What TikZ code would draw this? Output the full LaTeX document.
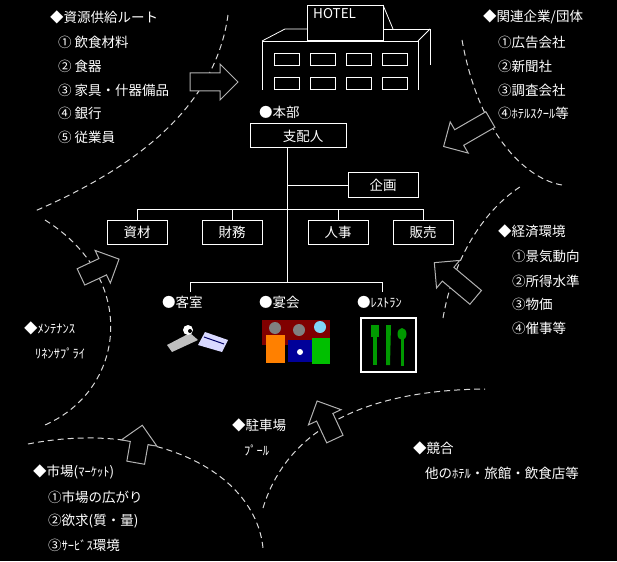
\documentclass[tikz,border=0pt]{standalone}
\usepackage{fontspec}
\setmainfont{Noto Sans CJK JP}
\newcommand\hk[1]{{\fontsize{12.5}{14}\selectfont #1}}
\newcommand\barr[3]{%
  \begin{scope}[shift={#1},rotate=#2]
  \draw[white!70!black,fill=black,line width=1pt]
   (-#3/2,-9pt) -- (#3/2-18pt,-9pt) -- (#3/2-18pt,-18pt) -- (#3/2,0pt) -- (#3/2-18pt,18pt) -- (#3/2-18pt,9pt) -- (-#3/2,9pt) -- cycle;
  \end{scope}}
\begin{document}
\begin{tikzpicture}[x=1pt,y=-1pt,
  txt/.style={anchor=west,text=white,inner sep=0pt,font=\fontsize{13.5}{15}\selectfont},
  ctxt/.style={text=white,inner sep=0pt,font=\fontsize{13.5}{15}\selectfont},
  bx/.style={draw=white,line width=1pt},
  ln/.style={draw=white,line width=0.8pt},
  curve/.style={draw=white!85!black,dashed,dash pattern=on 6pt off 4pt,line width=1pt}]
\fill[black] (0,0) rectangle (617,561);
\useasboundingbox (0,0) rectangle (617,561);
% curves
\draw[curve] (228,15) .. controls (215,110) and (130,170) .. (35,211);
\draw[curve] (45,220) .. controls (140,280) and (125,390) .. (45,425);
\draw[curve] (28,444) .. controls (150,420) and (255,470) .. (263,548);
\draw[curve] (263,508) .. controls (290,420) and (380,390) .. (485,389);
\draw[curve] (443,318) .. controls (455,250) and (490,205) .. (523,185);
\draw[curve] (462,40) .. controls (480,140) and (530,180) .. (562,185);
% block arrows
\barr{(214,82)}{0}{48pt}
\barr{(467,133)}{210}{54pt}
\barr{(455,280)}{140}{54pt}
\barr{(139,444)}{80}{38pt}
\barr{(326,420)}{115}{42pt}
\barr{(100,268)}{25}{42pt}
% hotel
\draw[ln] (262,90) -- (262,41) -- (418,41) -- (418,90);
\draw[ln] (262,41) -- (285,29) -- (307,29);
\draw[ln] (383,29) -- (430,29) -- (430,65);
\draw[ln] (418,41) -- (430,29);
\draw[ln] (383,5) -- (393,29);
\node[bx,minimum width=76pt,minimum height=35pt,anchor=north west,inner sep=0pt] (roof) at (307,5) {};
\node[anchor=north west,text=white,inner sep=0pt,font=\fontsize{13.5}{15}\selectfont] (hotel) at (313,8) {HOTEL};
\foreach \x in {274,310,346,382}{
  \draw[ln] (\x,53) rectangle +(25,12);
  \draw[ln] (\x,77) rectangle +(25,12);
}
% org chart
\node[txt] (honbu) at (259,112) {●本部};
\node[bx,minimum width=96pt,minimum height=24pt,ctxt] (shihai) at (298,136) {\hspace*{10pt}支配人};
\node[bx,minimum width=70pt,minimum height=24pt,ctxt] (kikaku) at (383,185) {企画};
\coordinate (j1) at (287,148);
\coordinate (j2) at (287,185);
\coordinate (j4) at (287,282);
\draw[ln] (j1) -- (j4);
\draw[ln] (j2) -- (kikaku.west);
\node[bx,minimum width=60pt,minimum height=24pt,ctxt] (shizai) at (137,232) {資材};
\node[bx,minimum width=60pt,minimum height=24pt,ctxt] (zaimu) at (232,232) {財務};
\node[bx,minimum width=60pt,minimum height=24pt,ctxt] (jinji) at (338,232) {人事};
\node[bx,minimum width=60pt,minimum height=24pt,ctxt] (hanbai) at (423,232) {販売};
\draw[ln] (shizai.north) -- ++(0,-10) -| (hanbai.north);
\draw[ln] (zaimu.north) -- ++(0,-10);
\draw[ln] (jinji.north) -- ++(0,-10);
\coordinate (k1) at (190,292);
\coordinate (k3) at (382,292);
\draw[ln] (k1) -- (190,282) -- (382,282) -- (k3);
\node[txt] (kyaku) at (162,302) {●客室};
\node[txt] (enkai) at (259,302) {●宴会};
\node[txt] (rest) at (357,302) {●\hk{ﾚｽﾄﾗﾝ}};
% key icon
\fill[white!75!black] (167,345) -- (190,333) -- (198,340) -- (172,352) -- cycle;
\fill[white] (188,330) circle (5);
\fill[white!85!blue] (205,332) -- (228,340) -- (222,352) -- (198,345) -- cycle;
\draw[black!60!blue,line width=1pt] (204,337) -- (224,344);
\fill[black] (190,331) circle (2);
% banquet
\fill[red!50!black] (262,320) rectangle (330,345);
\fill[orange] (266,335) rectangle (285,363);
\fill[gray] (275,328) circle (6);
\fill[blue!60!black] (288,340) rectangle (312,362);
\fill[gray] (299,330) circle (6);
\fill[green!75!black] (312,338) rectangle (330,364);
\fill[cyan!50!white] (320,327) circle (6);
\fill[white] (300,352) circle (3);
% restaurant
\draw[white,line width=2pt] (361,318) rectangle (416,372);
\fill[green!60!black] (373,335) rectangle (377,365);
\fill[green!60!black] (371,325) rectangle (379,337);
\fill[green!60!black] (386,325) -- (391,325) -- (390,365) -- (386,365) -- cycle;
\fill[green!60!black] (402,334) ellipse (4.5 and 6);
\fill[green!60!black] (400.5,338) rectangle (403.5,366);
% texts top-left
\node[txt] (s0) at (50,17) {◆資源供給ルート};
\node[txt] (s1) at (58,42) {① 飲食材料};
\node[txt] (s2) at (58,66) {② 食器};
\node[txt] (s3) at (58,90) {③ 家具・什器備品};
\node[txt] (s4) at (58,113) {④ 銀行};
\node[txt] (s5) at (58,137) {⑤ 従業員};
% top-right
\node[txt] (r0) at (483,17) {◆関連企業/団体};
\node[txt] (r1) at (498,42) {①広告会社};
\node[txt] (r2) at (498,66) {②新聞社};
\node[txt] (r3) at (498,90) {③調査会社};
\node[txt] (r4) at (498,113) {④\hk{ﾎﾃﾙｽｸｰﾙ}等};
% right middle
\node[txt] (e0) at (498,231) {◆経済環境};
\node[txt] (e1) at (512,256) {①景気動向};
\node[txt] (e2) at (512,281) {②所得水準};
\node[txt] (e3) at (512,304) {③物価};
\node[txt] (e4) at (512,328) {④催事等};
% left
\node[txt] (m0) at (24,328) {◆\hk{ﾒﾝﾃﾅﾝｽ}};
\node[txt] (m1) at (35,353) {\hk{ﾘﾈﾝｻﾌﾟﾗｲ}};
% bottom center
\node[txt] (p0) at (232,425) {◆駐車場};
\node[txt] (p1) at (244,450) {\hk{ﾌﾟｰﾙ}};
% bottom right
\node[txt] (c0) at (413,448) {◆競合};
\node[txt] (c1) at (425,473) {他の\hk{ﾎﾃﾙ}・旅館・飲食店等};
% bottom left
\node[txt] (k0) at (33,472) {◆市場(\hk{ﾏｰｹｯﾄ})};
\node[txt] (k1t) at (48,497) {①市場の広がり};
\node[txt] (k2t) at (48,521) {②欲求(質・量)};
\node[txt] (k3t) at (48,545) {③\hk{ｻｰﾋﾞｽ}環境};
\end{tikzpicture}
\end{document}
